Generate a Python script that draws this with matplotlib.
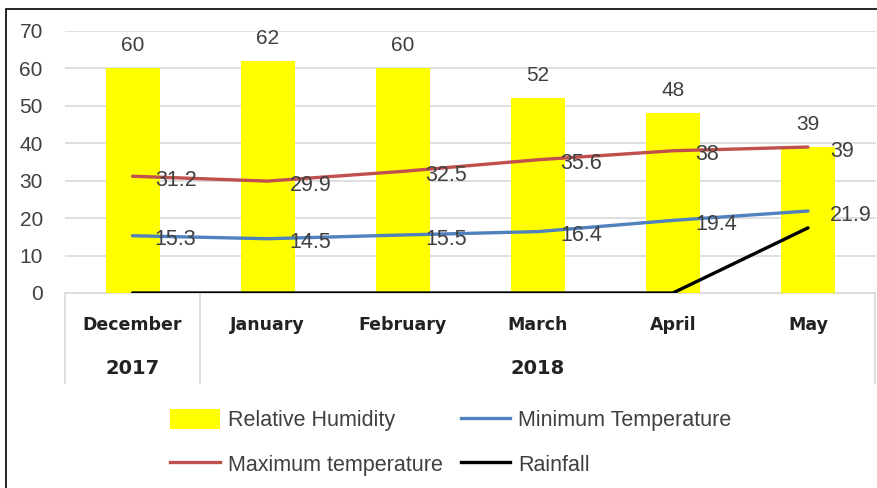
import numpy as np
import matplotlib.pyplot as plt
from matplotlib.patches import Rectangle, Patch
from matplotlib.lines import Line2D
import matplotlib.transforms as mtransforms

months = ['December', 'January', 'February', 'March', 'April', 'May']
years = ['2017', '2018']
humidity = [60, 62, 60, 52, 48, 39]
min_temp = [15.3, 14.5, 15.5, 16.4, 19.4, 21.9]
max_temp = [31.2, 29.9, 32.5, 35.6, 38, 39]
rainfall = [0, 0, 0, 0, 0, 17.4]

plain = ['Liberation Sans', 'DejaVu Sans']
bold_face = ['DejaVu Sans']
txt = '#404040'
grid_c = '#d9d9d9'

fig = plt.figure(figsize=(8.77, 4.88), dpi=100)
ax = fig.add_axes([65 / 877, 195 / 488, 810.5 / 877, 262 / 488])

x = np.arange(len(months))

ax.set_ylim(0, 70)
ax.set_xlim(-0.5, len(months) - 0.5)
ax.set_yticks(range(0, 71, 10))
ax.yaxis.grid(True, color=grid_c, linewidth=1.2)
ax.set_axisbelow(True)
for s in ax.spines.values():
    s.set_visible(False)
ax.tick_params(axis='y', length=0, pad=16, labelsize=15, labelcolor=txt)
ax.tick_params(axis='x', length=0)
ax.set_xticks([])
for lab in ax.get_yticklabels():
    lab.set_family(plain)

ax.bar(x, humidity, width=0.4, color='#ffff00', zorder=2)
ax.plot(x, max_temp, color='#c0504d', lw=2.4, zorder=3, solid_capstyle='round')
ax.plot(x, min_temp, color='#4f81bd', lw=2.4, zorder=3, solid_capstyle='round')
ax.plot(x, rainfall, color='black', lw=2.4, zorder=3, solid_capstyle='round')

# value labels
for xi, v in zip(x, humidity):
    ax.annotate(str(v), (xi, v), xytext=(0, 16.5), textcoords='offset points',
                ha='center', va='center', fontsize=15, color=txt,
                family=plain, zorder=5)
for series in (max_temp, min_temp):
    for xi, v in zip(x, series):
        ax.annotate(f'{v:g}', (xi, v), xytext=(16, -3), textcoords='offset points',
                    ha='left', va='center', fontsize=15.5, color=txt,
                    family=plain, zorder=5)

# two-level category axis
trans = mtransforms.blended_transform_factory(ax.transData, ax.transAxes)
ax.plot([-0.5, 5.5], [0, 0], color=grid_c, lw=1.2, transform=trans,
        clip_on=False, zorder=1)
for xs in (-0.5, 0.5, 5.5):
    ax.plot([xs, xs], [0, -90 / 262], color=grid_c, lw=1.2,
            transform=trans, clip_on=False)
for xi, m in zip(x, months):
    ax.text(xi, -32 / 262, m, transform=trans, ha='center', va='center',
            fontsize=12.5, fontweight='bold', color='#222222', family=bold_face)
ax.text(0, -75 / 262, years[0], transform=trans, ha='center', va='center',
        fontsize=14, fontweight='bold', color='#222222', family=bold_face)
ax.text(3, -75 / 262, years[1], transform=trans, ha='center', va='center',
        fontsize=14, fontweight='bold', color='#222222', family=bold_face)

handles = [
    Patch(facecolor='#ffff00', edgecolor='none'),
    Line2D([], [], color='#c0504d', lw=2.4),
    Line2D([], [], color='#4f81bd', lw=2.4),
    Line2D([], [], color='black', lw=2.4),
]
labels = ['Relative Humidity', 'Maximum temperature',
          'Minimum Temperature', 'Rainfall']
fig.legend(handles, labels, ncol=2, loc='upper left',
           bbox_to_anchor=(151 / 877, 1 - 390 / 488), frameon=False,
           prop={'family': plain, 'size': 15.5}, handlelength=2.3,
           handleheight=1.0, handletextpad=0.37, columnspacing=0.83,
           labelspacing=1.05, labelcolor=txt)

# outer frame
fig.patches.append(Rectangle((6 / 877, -0.05), 1.0, 1 - 9 / 488 + 0.05,
                             transform=fig.transFigure, fill=False,
                             edgecolor='black', lw=1.2))

fig.savefig('out.png', dpi=100)
